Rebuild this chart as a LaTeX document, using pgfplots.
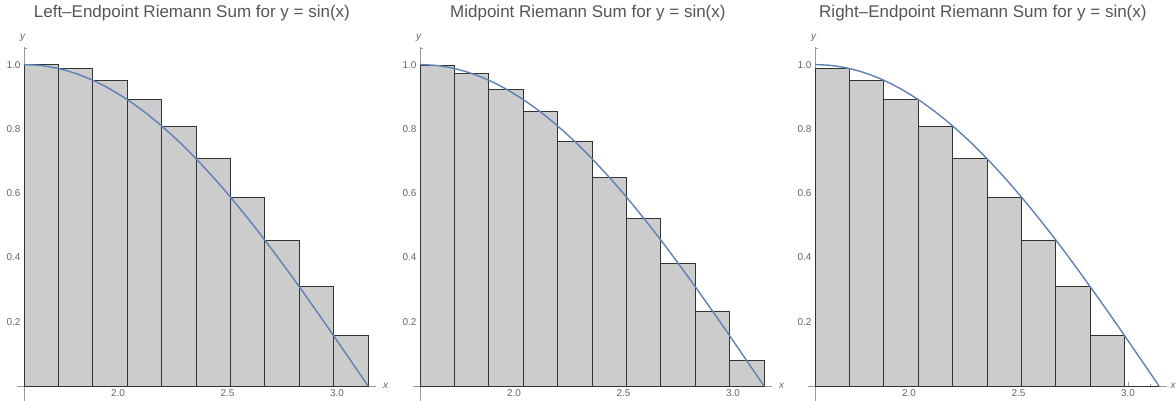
\documentclass[border=0pt]{standalone}
\usepackage{pgfplots}
\usepackage{pgfplotstable}
\pgfplotsset{compat=1.18}
\usepackage{fontspec}
\setmainfont{Liberation Sans}

\definecolor{curveblue}{HTML}{5E81B5}
\definecolor{barfill}{HTML}{CCCCCC}
\definecolor{baredge}{HTML}{333333}
\definecolor{axisgray}{HTML}{9A9A9A}
\definecolor{labelgray}{HTML}{666666}
\definecolor{titlegray}{HTML}{555555}

% sin(x) on [pi/2, pi]
\pgfplotstableread{
x y
1.5708 1.00000
1.6493 0.99692
1.7279 0.98769
1.8064 0.97237
1.8850 0.95106
1.9635 0.92388
2.0420 0.89101
2.1206 0.85264
2.1991 0.80902
2.2777 0.76041
2.3562 0.70711
2.4347 0.64945
2.5133 0.58779
2.5918 0.52250
2.6704 0.45399
2.7489 0.38268
2.8274 0.30902
2.9060 0.23345
2.9845 0.15643
3.0631 0.07846
3.1416 0.00000
}\curve

% left edges and heights (last row only closes the interval)
\pgfplotstableread{
x y
1.5708 1.0000
1.7279 0.9877
1.8850 0.9511
2.0420 0.8910
2.1991 0.8090
2.3562 0.7071
2.5133 0.5878
2.6704 0.4540
2.8274 0.3090
2.9845 0.1564
3.1416 0.0000
}\leftbars

\pgfplotstableread{
x y
1.5708 0.99692
1.7279 0.97237
1.8850 0.92388
2.0420 0.85264
2.1991 0.76041
2.3562 0.64945
2.5133 0.52250
2.6704 0.38268
2.8274 0.23345
2.9845 0.07846
3.1416 0.00000
}\midbars

\pgfplotstableread{
x y
1.5708 0.9877
1.7279 0.9511
1.8850 0.8910
2.0420 0.8090
2.1991 0.7071
2.3562 0.5878
2.5133 0.4540
2.6704 0.3090
2.8274 0.1564
2.9845 0.0000
3.1416 0.0000
}\rightbars

\pgfplotsset{
  rsum/.style={
    scale only axis,
    width=352pt, height=354.9pt,
    anchor=south west,
    xmin=1.5708, xmax=3.178,
    ymin=-0.05, ymax=1.054,
    axis x line=middle, axis y line=left,
    axis line style={-, draw=axisgray, line width=0.7pt},
    tick align=inside,
    major tick length=4pt, minor tick length=2.5pt,
    tick style={axisgray, line width=0.6pt},
    xtick={2,2.5,3}, ytick={0.2,0.4,0.6,0.8,1.0},
    minor xtick={1.6,1.7,...,3.15},
    minor ytick={0.05,0.1,...,1.06},
    xticklabel style={font=\fontsize{10}{12}\selectfont, text=labelgray},
    yticklabel style={font=\fontsize{10}{12}\selectfont, text=labelgray},
    /pgf/number format/.cd, fixed, fixed zerofill, precision=1, assume math mode=true,
    /pgfplots/.cd,
    clip=false,
    title style={at={(axis description cs:0.477,1.068)}, anchor=base,
      font=\fontsize{17}{20}\selectfont, text=titlegray},
  },
  bars/.style={ybar interval, fill=barfill, draw=baredge, line width=0.9pt},
  sinecurve/.style={curveblue, line width=1.4pt, smooth, no marks},
}

\newcommand{\axislabels}[1]{%
  \draw[axisgray, line width=0.7pt] (axis cs:1.5388,0) -- (axis cs:1.5708,0);
  \node[anchor=west, inner sep=0pt, text=labelgray, font=\fontsize{10}{12}\selectfont\itshape]
    at (axis cs:3.178,0) [xshift=#1] {x};
  \node[anchor=south, inner sep=0pt, text=labelgray, font=\fontsize{10}{12}\selectfont\itshape]
    at (axis cs:1.5708,1.054) [xshift=-1.5pt, yshift=5pt] {y};
}

\begin{document}
\begin{tikzpicture}
\begin{axis}[rsum, at={(24pt,-2.1pt)},
  title={Left–Endpoint Riemann Sum for y = sin(x)}]
  \addplot[bars] table {\leftbars};
  \addplot[sinecurve] table {\curve};
  \axislabels{7pt}
\end{axis}

\begin{axis}[rsum, at={(420pt,-2.1pt)},
  title={Midpoint Riemann Sum for y = sin(x)}]
  \addplot[bars] table {\midbars};
  \addplot[sinecurve] table {\curve};
  \axislabels{7pt}
\end{axis}

\begin{axis}[rsum, at={(815pt,-2.1pt)},
  title={Right–Endpoint Riemann Sum for y = sin(x)}]
  \addplot[bars] table {\rightbars};
  \addplot[sinecurve] table {\curve};
  \axislabels{3.5pt}
\end{axis}

\pgfresetboundingbox
\useasboundingbox (0,0) rectangle (1176pt,400pt);
\end{tikzpicture}
\end{document}
